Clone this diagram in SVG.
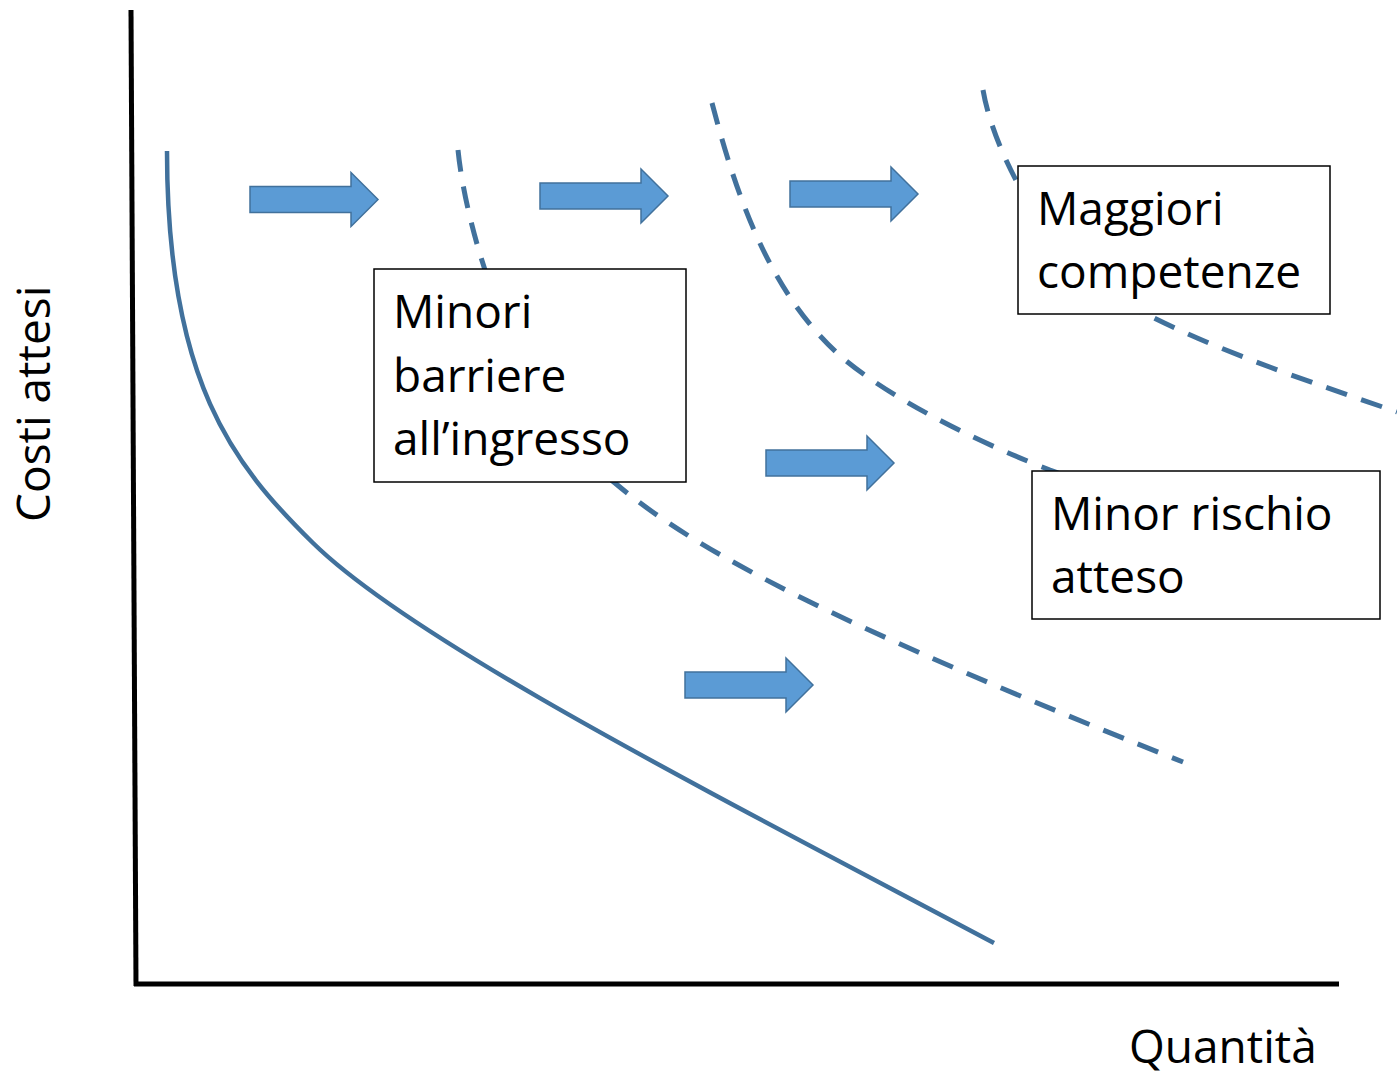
<svg xmlns="http://www.w3.org/2000/svg" xmlns:xlink="http://www.w3.org/1999/xlink" width="1397" height="1076" viewBox="0 0 1397 1076">
<style>
.axis{stroke:#000;stroke-width:5;fill:none}
.curve{stroke:#41719C;stroke-width:4.5;fill:none}
.dash{stroke:#41719C;stroke-width:5;fill:none;stroke-dasharray:22 15}
.box{fill:#fff;stroke:#000;stroke-width:1.5}
.arrow{fill:#5B9BD5;stroke:#41719C;stroke-width:1.5}
.t{font-family:"Open Sans","Noto Sans","Liberation Sans",sans-serif;font-size:46px;fill:#000}
</style>
<defs>
<path id="arr" d="M0,-13 H101 V-27 L128,0 L101,27 V13 H0 Z"/>
</defs>
<rect width="1397" height="1076" fill="#fff"/>
<g id="axes">
<line class="axis" x1="131" y1="10" x2="136" y2="986"/>
<line class="axis" x1="134" y1="984" x2="1339" y2="984"/>
<text class="t" x="1129" y="1063">Quantità</text>
<text class="t" transform="translate(50,522) rotate(-90)">Costi attesi</text>
</g>
<g id="connectors">
<path class="curve" d="M167,151 C167,381 233,464.6 313,543 C413,641 694,784 994,943"/>
<path class="dash" d="M458,150 C466,230 513,397 615,483 C700,555 850,630 1183,762"/>
<path class="dash" d="M712,103 C740,210 775,300 845,360 C900,405 990,447 1050,470 L1120,495"/>
<path class="dash" d="M983,90 C995,160 1060,280 1150,316 C1230,356 1320,385 1397,412"/>
</g>
<g id="arrows">
<use class="arrow" xlink:href="#arr" href="#arr" x="250" y="199.5"/>
<use class="arrow" xlink:href="#arr" href="#arr" x="540" y="196"/>
<use class="arrow" xlink:href="#arr" href="#arr" x="790" y="194"/>
<use class="arrow" xlink:href="#arr" href="#arr" x="766" y="463"/>
<use class="arrow" xlink:href="#arr" href="#arr" x="685" y="685"/>
</g>
<g id="box-minori">
<rect class="box" x="374" y="269" width="312" height="213"/>
<text class="t" x="393" y="328">Minori</text>
<text class="t" x="393" y="392">barriere</text>
<text class="t" x="393" y="455">all’ingresso</text>
</g>
<g id="box-maggiori">
<rect class="box" x="1018" y="166" width="312" height="148"/>
<text class="t" x="1037" y="225">Maggiori</text>
<text class="t" x="1037" y="288">competenze</text>
</g>
<g id="box-rischio">
<rect class="box" x="1032" y="471" width="348" height="148"/>
<text class="t" x="1051" y="530">Minor rischio</text>
<text class="t" x="1051" y="593">atteso</text>
</g>
</svg>
